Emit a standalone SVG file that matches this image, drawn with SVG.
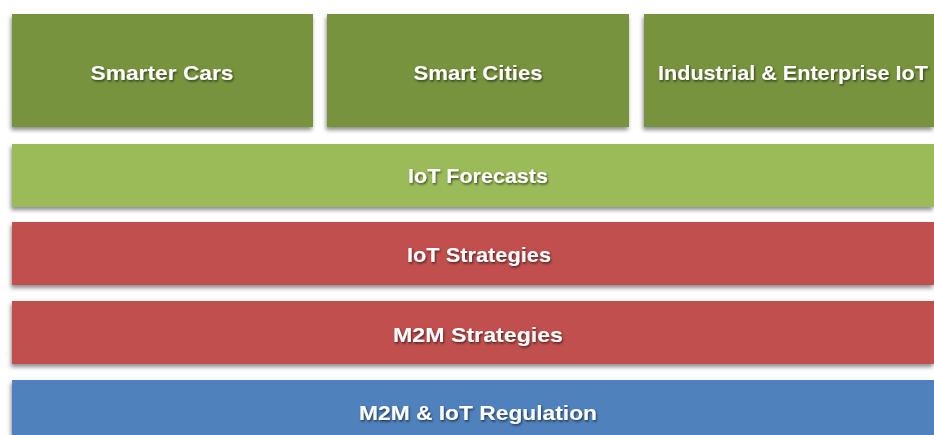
<svg xmlns="http://www.w3.org/2000/svg" width="934" height="435" viewBox="0 0 934 435">
<defs>
<filter id="boxShadow" x="-5%" y="-20%" width="110%" height="150%">
<feDropShadow dx="-1" dy="3" stdDeviation="2" flood-color="#000" flood-opacity="0.45"/>
</filter>
<filter id="txtShadow" x="-2%" y="-30%" width="104%" height="160%">
<feDropShadow dx="1" dy="1.5" stdDeviation="0.8" flood-color="#000" flood-opacity="0.6"/>
</filter>
</defs>
<style>
.lbl{font-family:"Liberation Sans",Arial,sans-serif;font-weight:bold;font-size:21px;fill:#fff;text-anchor:middle;filter:url(#txtShadow)}
.dg{fill:#77933C;filter:url(#boxShadow)}
.lg{fill:#9BBB59;filter:url(#boxShadow)}
.rd{fill:#C0504D;filter:url(#boxShadow)}
.bl{fill:#4F81BD;filter:url(#boxShadow)}
</style>
<rect width="934" height="435" fill="#fff"/>
<g id="smarter-cars">
<rect class="dg" x="12" y="14" width="301" height="113"/>
<text class="lbl" x="162" y="80" textLength="143" lengthAdjust="spacingAndGlyphs">Smarter Cars</text>
</g>
<g id="smart-cities">
<rect class="dg" x="327" y="14" width="302" height="113"/>
<text class="lbl" x="478" y="80" textLength="129" lengthAdjust="spacingAndGlyphs">Smart Cities</text>
</g>
<g id="industrial-iot">
<rect class="dg" x="644" y="14" width="290" height="113"/>
<text class="lbl" x="793" y="80" textLength="270" lengthAdjust="spacingAndGlyphs">Industrial &amp; Enterprise IoT</text>
</g>
<g id="iot-forecasts">
<rect class="lg" x="12" y="144" width="922" height="63"/>
<text class="lbl" x="478" y="183" textLength="140" lengthAdjust="spacingAndGlyphs">IoT Forecasts</text>
</g>
<g id="iot-strategies">
<rect class="rd" x="12" y="222" width="922" height="63"/>
<text class="lbl" x="479" y="262" textLength="144" lengthAdjust="spacingAndGlyphs">IoT Strategies</text>
</g>
<g id="m2m-strategies">
<rect class="rd" x="12" y="301" width="922" height="63"/>
<text class="lbl" x="478" y="342" textLength="170" lengthAdjust="spacingAndGlyphs">M2M Strategies</text>
</g>
<g id="m2m-iot-regulation">
<rect class="bl" x="12" y="380" width="922" height="55"/>
<text class="lbl" x="478" y="420" textLength="238" lengthAdjust="spacingAndGlyphs">M2M &amp; IoT Regulation</text>
</g>
<g id="connectors"/>
</svg>
